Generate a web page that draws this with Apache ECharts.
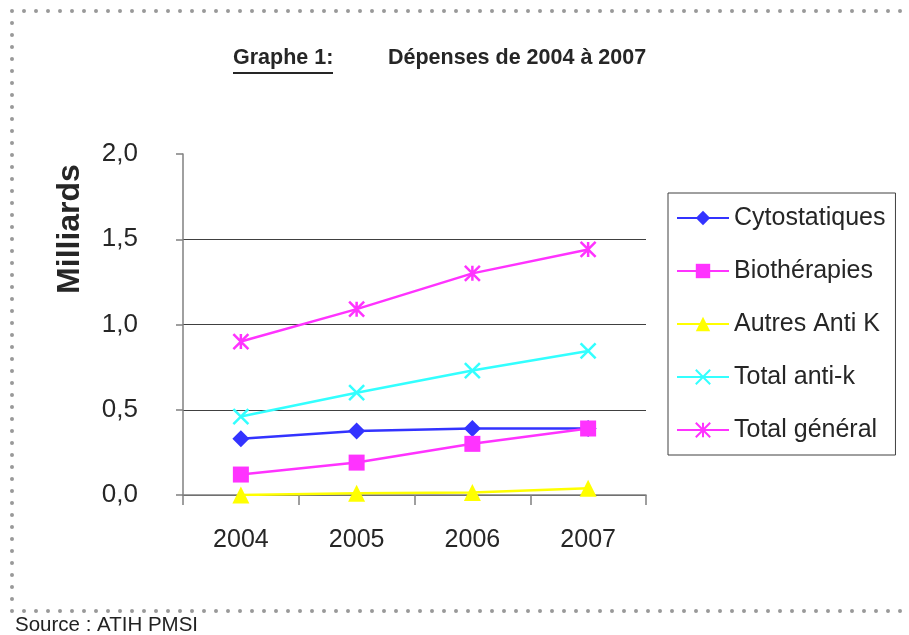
<!DOCTYPE html>
<html>
<head>
<meta charset="utf-8">
<script src="https://cdn.jsdelivr.net/npm/echarts@6/dist/echarts.min.js"></script>
<style>
  html, body { margin: 0; padding: 0; background: #fff; }
  #chart { width: 909px; height: 635px; }
</style>
</head>
<body>
<div id="chart"></div>
<script>
const years = ['2004', '2005', '2006', '2007'];
const cytostatiques = [0.33, 0.375, 0.39, 0.39];
const biotherapies = [0.12, 0.19, 0.30, 0.39];
const autresAntiK = [0.0, 0.01, 0.015, 0.04];
const totalAntiK = [0.46, 0.60, 0.73, 0.845];
const totalGeneral = [0.90, 1.09, 1.30, 1.44];

const sans = '"Liberation Sans", Arial, sans-serif';
const crossPath = 'path://M0,0L10,10M10,0L0,10';
const starPath = 'path://M5,0L5,10M0,0L10,10M10,0L0,10';

function line(name, data, color, symbol, size, strokeOnly) {
  return {
    name, type: 'line', data,
    symbol, symbolSize: size,
    lineStyle: { color, width: 2.5 },
    itemStyle: strokeOnly
      ? { color: 'rgba(0,0,0,0)', borderColor: color, borderWidth: 2.5 }
      : { color, borderWidth: 0 },
    emphasis: { disabled: true },
    animation: false
  };
}

const chart = echarts.init(document.getElementById('chart'));
chart.setOption({
  backgroundColor: '#fff',
  animation: false,
  grid: { left: 183, right: 263, top: 154, bottom: 140 },
  xAxis: {
    type: 'category',
    data: years,
    boundaryGap: true,
    axisLine: { lineStyle: { color: '#808080', width: 1.5 } },
    axisTick: { show: true, length: 10, lineStyle: { color: '#808080', width: 1.5 } },
    axisLabel: { color: '#262626', fontFamily: sans, fontSize: 25, margin: 33 }
  },
  yAxis: {
    type: 'value',
    min: 0, max: 2, interval: 0.5,
    axisLine: { show: true, lineStyle: { color: '#808080', width: 1.5 } },
    axisTick: { show: true, length: 7, lineStyle: { color: '#808080', width: 1.5 } },
    splitLine: { show: true, lineStyle: { color: ['#404040', '#404040', '#404040', '#404040', 'rgba(0,0,0,0)'], width: 1 } },
    axisLabel: {
      color: '#262626', fontFamily: sans, fontSize: 26, margin: 45,
      formatter: v => v.toFixed(1).replace('.', ',')
    }
  },
  legend: {
    orient: 'vertical',
    left: 668, top: 193,
    padding: [10, 10, 10, 8],
    borderColor: '#404040', borderWidth: 1,
    itemWidth: 52, itemHeight: 18, itemGap: 23,
    textStyle: { color: '#262626', fontFamily: sans, fontSize: 25, lineHeight: 30 },
    data: ['Cytostatiques', 'Biothérapies', 'Autres Anti K', 'Total anti-k', 'Total général']
  },
  series: [
    line('Cytostatiques', cytostatiques, '#3333ff', 'diamond', 17, false),
    line('Biothérapies', biotherapies, '#ff33ff', 'rect', 16, false),
    line('Autres Anti K', autresAntiK, '#ffff00', 'triangle', 17, false),
    line('Total anti-k', totalAntiK, '#33ffff', crossPath, 15, true),
    line('Total général', totalGeneral, '#ff33ff', starPath, 15, true)
  ],
  graphic: [
    {
      type: 'rect', silent: true, z: -1,
      shape: { x: 12, y: 11, width: 930, height: 600 },
      style: { fill: 'none', stroke: '#999', lineWidth: 4, lineDash: [0, 12], lineCap: 'round' }
    },
    {
      type: 'text', x: 233, y: 58,
      style: { text: 'Graphe 1:', fill: '#262626', font: 'bold 21.5px ' + sans, verticalAlign: 'middle' }
    },
    {
      type: 'line', shape: { x1: 233, y1: 73, x2: 333, y2: 73 },
      style: { stroke: '#262626', lineWidth: 2 }
    },
    {
      type: 'text', x: 388, y: 58,
      style: { text: 'Dépenses de 2004 à 2007', fill: '#262626', font: 'bold 21.5px ' + sans, verticalAlign: 'middle' }
    },
    {
      type: 'text', x: 70, y: 229, rotation: Math.PI / 2,
      style: { text: 'Milliards', fill: '#262626', font: 'bold 32px ' + sans, align: 'center', verticalAlign: 'middle' }
    },
    {
      type: 'text', x: 15, y: 625,
      style: { text: 'Source : ATIH PMSI', fill: '#222', font: '20.5px ' + sans, verticalAlign: 'middle' }
    }
  ]
});
</script>
</body>
</html>
